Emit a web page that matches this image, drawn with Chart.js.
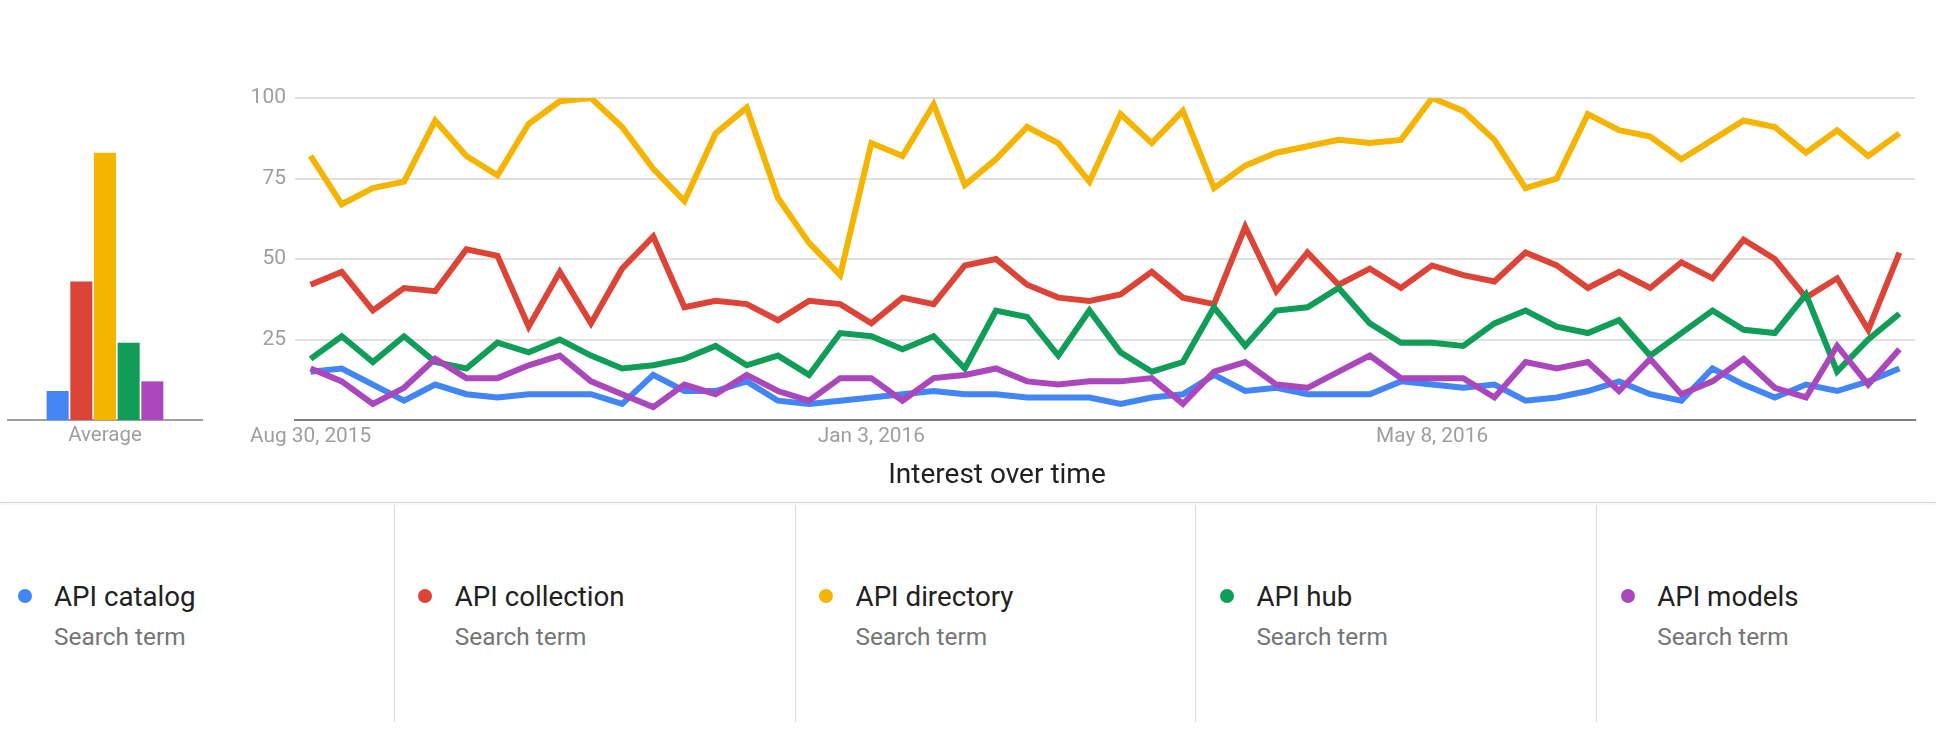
<!DOCTYPE html>
<html>
<head>
<meta charset="utf-8">
<script src="https://cdn.jsdelivr.net/npm/chart.js@4"></script>
<style>
  body { margin: 0; width: 1936px; height: 742px; background: #fff; font-family: Roboto, sans-serif; overflow: hidden; position: relative; }
  canvas { position: absolute; }
  #avgChart { left: 0; top: 60px; }
  #trendChart { left: 200px; top: 60px; }
  #title { position: absolute; left: 797px; width: 400px; top: 460px; text-align: center; font-size: 28px; line-height: 1; color: #212121; }
  #rule { position: absolute; left: 0; top: 502px; width: 1936px; height: 1px; background: #d6d6d6; box-shadow: 0 1px 3px rgba(0,0,0,0.15); }
  .sep { position: absolute; top: 505px; width: 1px; height: 217px; background: #dcdcdc; }
  .dot { position: absolute; width: 14px; height: 14px; border-radius: 50%; }
  .name { position: absolute; font-size: 27.7px; line-height: 1; color: #212121; white-space: nowrap; }
  .sub { position: absolute; font-size: 24.4px; line-height: 1; color: #757575; white-space: nowrap; }
</style>
</head>
<body>
<canvas id="avgChart" width="210" height="400"></canvas>
<canvas id="trendChart" width="1736" height="400"></canvas>
<div id="title">Interest over time</div>
<div id="rule"></div>
<div id="legend"></div>
<script>
// weekly points, Google Trends style
const labels = [
  'Aug 30, 2015', 'Sep 6, 2015', 'Sep 13, 2015', 'Sep 20, 2015', 'Sep 27, 2015', 'Oct 4, 2015',
  'Oct 11, 2015', 'Oct 18, 2015', 'Oct 25, 2015', 'Nov 1, 2015', 'Nov 8, 2015', 'Nov 15, 2015',
  'Nov 22, 2015', 'Nov 29, 2015', 'Dec 6, 2015', 'Dec 13, 2015', 'Dec 20, 2015', 'Dec 27, 2015',
  'Jan 3, 2016', 'Jan 10, 2016', 'Jan 17, 2016', 'Jan 24, 2016', 'Jan 31, 2016', 'Feb 7, 2016',
  'Feb 14, 2016', 'Feb 21, 2016', 'Feb 28, 2016', 'Mar 6, 2016', 'Mar 13, 2016', 'Mar 20, 2016',
  'Mar 27, 2016', 'Apr 3, 2016', 'Apr 10, 2016', 'Apr 17, 2016', 'Apr 24, 2016', 'May 1, 2016',
  'May 8, 2016', 'May 15, 2016', 'May 22, 2016', 'May 29, 2016', 'Jun 5, 2016', 'Jun 12, 2016',
  'Jun 19, 2016', 'Jun 26, 2016', 'Jul 3, 2016', 'Jul 10, 2016', 'Jul 17, 2016', 'Jul 24, 2016',
  'Jul 31, 2016', 'Aug 7, 2016', 'Aug 14, 2016', 'Aug 21, 2016'
];
const tickLabels = ['Aug 30, 2015', 'Jan 3, 2016', 'May 8, 2016'];

const seriesNames = ['API catalog', 'API collection', 'API directory', 'API hub', 'API models'];

const catalog = [15,16,11,6,11,8,7,8,8,8,5, 14,9,9,12,6,5,6,7,8,9, 8,8,7,7,7,5,7,8,14,9, 10,8,8,8,12,11,10,11,6,7, 9,12,8,6,16,11,7,11,9,12,16];
const collection = [42,46,34,41,40,53,51,29,46,30,47, 57,35,37,36,31,37,36,30,38,36, 48,50,42,38,37,39,46,38,36,60, 40,52,42,47,41,48,45,43,52,48, 41,46,41,49,44,56,50,38,44,28,52];
const directory = [82,67,72,74,93,82,76,92,99,100,91, 78,68,89,97,69,55,45,86,82,98, 73,81,91,86,74,95,86,96,72,79, 83,85,87,86,87,100,96,87,72,75, 95,90,88,81,87,93,91,83,90,82,89];
const hub = [19,26,18,26,18,16,24,21,25,20,16, 17,19,23,17,20,14,27,26,22,26, 16,34,32,20,34,21,15,18,35,23, 34,35,41,30,24,24,23,30,34,29, 27,31,20,27,34,28,27,39,15,25,33];
const models = [16,12,5,10,19,13,13,17,20,12,8, 4,11,8,14,9,6,13,13,6,13, 14,16,12,11,12,12,13,5,15,18, 11,10,15,20,13,13,13,7,18,16, 18,9,19,8,12,19,10,7,23,11,22];

const averages = [9, 43, 83, 24, 12];

const colors = ['#4285f4', '#db4437', '#f4b400', '#0f9d58', '#ab47bc'];

Chart.defaults.font.family = 'Roboto';

const series = [catalog, collection, directory, hub, models];

// average bars on the left
new Chart(document.getElementById('avgChart'), {
  type: 'bar',
  data: {
    labels: ['Average'],
    datasets: averages.map((v, i) => ({
      label: seriesNames[i],
      data: [v],
      backgroundColor: colors[i],
      barPercentage: 0.93,
      categoryPercentage: 0.61
    }))
  },
  options: {
    responsive: false,
    animation: false,
    devicePixelRatio: 1,
    layout: { padding: { top: 38, left: 8, right: 8, bottom: 0 } },
    plugins: { legend: { display: false }, tooltip: { enabled: false } },
    scales: {
      x: {
        grid: { display: false, drawTicks: false },
        border: { display: true, color: '#9e9e9e', width: 2 },
        ticks: { padding: 4, color: '#9e9e9e', font: { size: 20.5 } },
        afterFit(s) { s.height = 40; }
      },
      y: { display: false, min: 0, max: 100 }
    }
  }
});

// interest over time
new Chart(document.getElementById('trendChart'), {
  type: 'line',
  data: {
    labels: labels,
    datasets: series.map((d, i) => ({
      label: seriesNames[i],
      data: d,
      borderColor: colors[i],
      borderWidth: 6,
      pointRadius: 0,
      tension: 0,
      fill: false,
      order: series.length - i
    }))
  },
  options: {
    responsive: false,
    animation: false,
    devicePixelRatio: 1,
    layout: { padding: { top: 38, right: 21, left: 0, bottom: 0 } },
    plugins: { legend: { display: false }, tooltip: { enabled: false } },
    scales: {
      x: {
        offset: true,
        grid: { display: false, drawTicks: false },
        border: { display: true, color: '#808080', width: 2 },
        ticks: {
          autoSkip: false,
          maxRotation: 0,
          padding: 4,
          color: '#9e9e9e',
          font: { size: 20.8 },
          callback(v, i) { return tickLabels.includes(labels[i]) ? labels[i] : ''; }
        },
        afterFit(s) { s.height = 40; }
      },
      y: {
        min: 0,
        max: 100,
        grid: { color: '#e0e0e0', lineWidth: 2, drawTicks: false },
        border: { display: false },
        ticks: {
          stepSize: 25,
          padding: 9,
          color: '#9e9e9e',
          font: { size: 21 },
          callback: v => v === 0 ? '' : v
        },
        afterFit(s) { s.width = 95; }
      }
    }
  }
});

// legend row
const legend = document.getElementById('legend');
seriesNames.forEach((name, k) => {
  const left = -7 + 400.8 * k;
  if (k > 0) {
    const sep = document.createElement('div');
    sep.className = 'sep';
    sep.style.left = Math.round(left) + 'px';
    legend.appendChild(sep);
  }
  const dot = document.createElement('div');
  dot.className = 'dot';
  dot.style.background = colors[k];
  dot.style.left = (left + 24.5) + 'px';
  dot.style.top = '589px';
  legend.appendChild(dot);

  const n = document.createElement('div');
  n.className = 'name';
  n.textContent = name;
  n.style.left = (left + 61) + 'px';
  n.style.top = '583px';
  legend.appendChild(n);

  const s = document.createElement('div');
  s.className = 'sub';
  s.textContent = 'Search term';
  s.style.left = (left + 61) + 'px';
  s.style.top = '625px';
  legend.appendChild(s);
});
</script>
</body>
</html>
